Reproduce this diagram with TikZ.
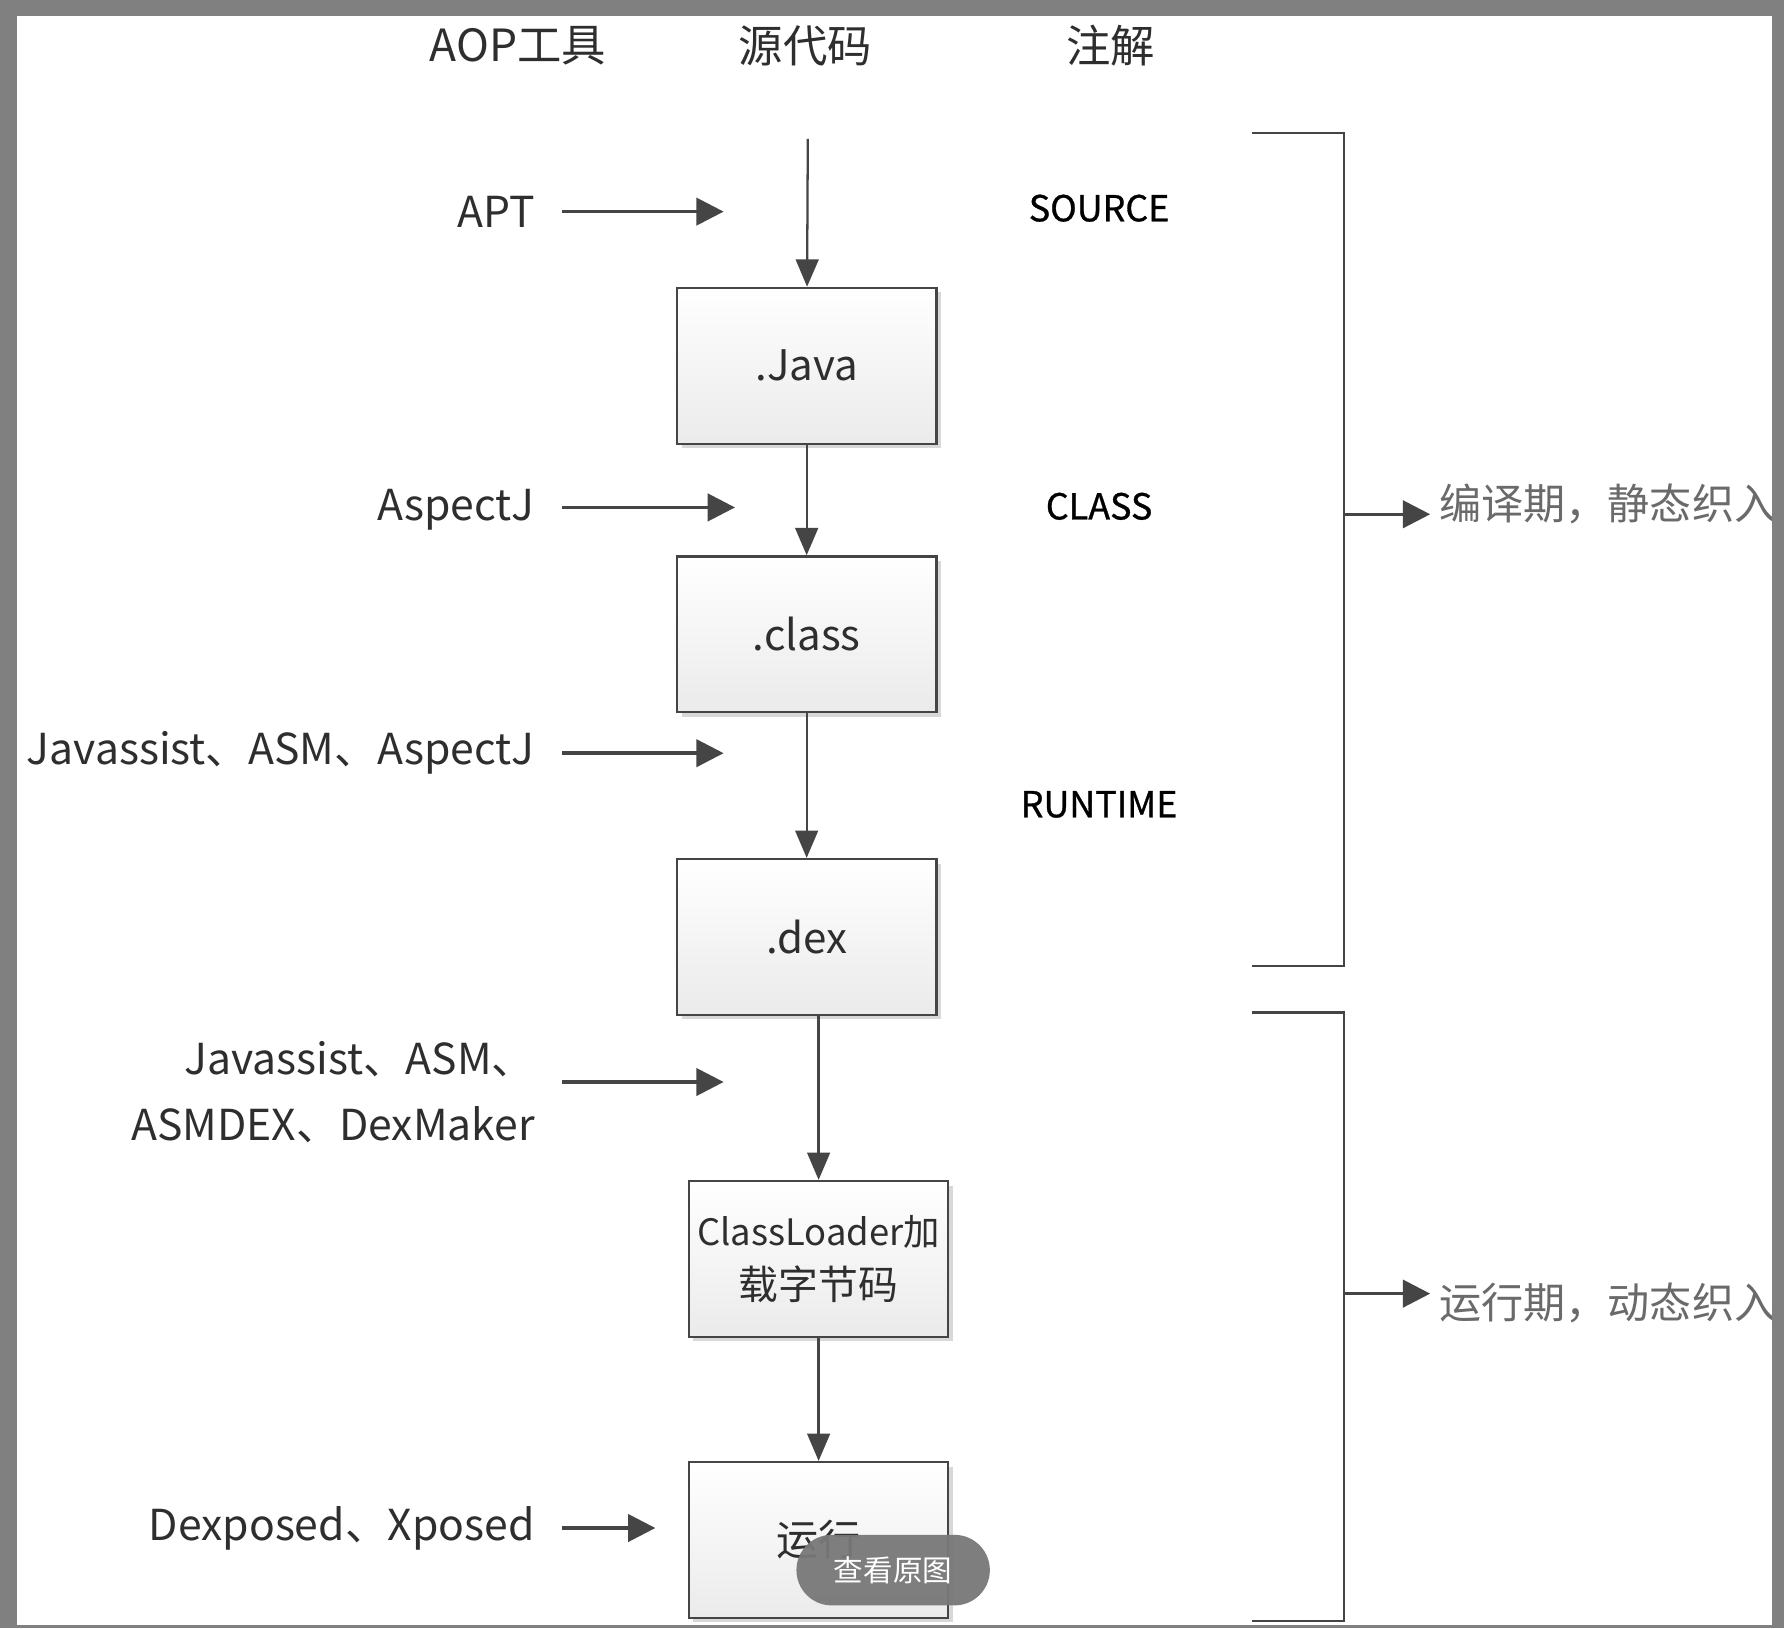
\documentclass[tikz,border=0pt]{standalone}
\usepackage{fontspec}
\setmainfont{Noto Sans CJK SC}
\newfontfamily\annofont[FakeBold=0.8]{Noto Sans CJK SC}
\usepackage{tikz}
\usetikzlibrary{shadows,arrows.meta,positioning,calc}
\definecolor{pagegray}{HTML}{808080}
\definecolor{linegray}{HTML}{454545}
\definecolor{textdark}{HTML}{2E2E2E}
\definecolor{textgray}{HTML}{6A6A6A}
\tikzstyle{stage}=[draw=linegray, line width=2pt, top color=white, bottom color=black!8,
  minimum width=228pt, minimum height=137pt, text=textdark, inner sep=0pt,
  font=\fontsize{37}{44}\selectfont,
  drop shadow={shadow xshift=4pt, shadow yshift=-4pt, fill=black!30, opacity=0.5}]
\tikzstyle{head}=[inner sep=0pt, text=textdark, font=\fontsize{39}{46}\selectfont]
\tikzstyle{tool}=[anchor=east, inner sep=0pt, align=right, text=textdark,
  font=\fontsize{37.5}{58}\selectfont]
\tikzstyle{anno}=[inner sep=0pt, text=black, font=\annofont\fontsize{31.5}{38}\selectfont]
\tikzstyle{phase}=[anchor=west, inner sep=0pt, text=textgray, font=\fontsize{37}{44}\selectfont]
\tikzstyle{line}=[draw, line width=2pt, color=linegray, -{Triangle[length=24pt,width=20pt]}]
\tikzstyle{toolline}=[line, line width=3pt, shorten <=24pt, -{Triangle[length=24pt,width=24pt]}]
\tikzstyle{bracket}=[draw, line width=2pt, color=linegray]
\newcommand{\stage}[2]{node (p#1)[stage]{#2}}
\newcommand{\tool}[3]{node (t#1)[tool] at (470,#2) {#3}}

\begin{document}
\begin{tikzpicture}[x=1pt,y=-1pt]

  % page and panel
  \useasboundingbox (0,0) rectangle (1568,1431);
  \fill[pagegray] (0,0) rectangle (1568,1431);
  \fill[white] (15,14) rectangle (1557,1428);

  % column headers
  \node (hAOP)[head] at (455,40) {AOP工具};
  \node (hSrc)[head] at (708,40) {源代码};
  \node (hAnno)[head] at (976,40) {注解};

  % Draw diagram elements
  \coordinate (p0) at (710,122);
  \path (709,321.5) \stage{1}{.Java};
  \path (p1.south)+(0,166.5) \stage{2}{.class};
  \path (p2.south)+(0,196.5) \stage{3}{.dex};
  \path (p3.south)+(10.5,213.5) node (p4)[stage, align=center,
    font=\fontsize{32}{47}\selectfont] {ClassLoader加\\{\fontsize{35}{47}\selectfont 载字节码}};
  \path (p4.south)+(0,177.5) \stage{5}{运行};

  % annotations
  \node (a1)[anno] at (966,183) {SOURCE};
  \node (a2)[anno] at (966,445) {CLASS};
  \node (a3)[anno] at (966,707) {RUNTIME};

  % AOP tools
  \begin{scope}
    \clip (15,14) rectangle (1557,1428);
    \path \tool{1}{186}{APT};
    \path \tool{2}{448}{AspectJ};
    \path \tool{3}{662}{Javassist、ASM、AspectJ};
    \path \tool{4}{960}{Javassist、ASM、\\ASMDEX、DexMaker};
    \path \tool{5}{1343}{Dexposed、Xposed};
  \end{scope}
  \coordinate (e1) at (636,186);
  \coordinate (e2) at (646,446);
  \coordinate (e3) at (636,662);
  \coordinate (e4) at (636,951);
  \coordinate (e5) at (576,1343);

  % Draw arrows between elements
  \path [line] (p0) -- (p1);
  \path [line] (p1) -- (p2);
  \path [line] (p2) -- (p3);
  \path [line] (p3.south -| p4) -- (p4);
  \path [line] (p4) -- (p5);
  \path [toolline] (t1.east) -- (e1);
  \path [toolline] (t2.east |- e2) -- (e2);
  \path [toolline] (t3.east) -- (e3);
  \path [toolline] (t4.east |- e4) -- (e4);
  \path [toolline] (t5.east) -- (e5);

  % brackets
  \coordinate (b1) at (1100,117);
  \coordinate (b2) at (1100,849);
  \coordinate (b3) at (1100,890);
  \coordinate (b4) at (1100,1425);
  \coordinate (m1) at (1181,452);
  \coordinate (m2) at (1181,1137);
  \path [bracket] (b1) -- ++(81,0) |- (b2);
  \path [bracket] (b3) -- ++(81,0) |- (b4);
  \begin{scope}
    \clip (15,14) rectangle (1557,1428);
    \node (r1)[phase] at (1265,443) {编译期，静态织入};
    \node (r2)[phase] at (1265,1145) {运行期，动态织入};
  \end{scope}
  \path [line, line width=3pt, shorten >=8pt, -{Triangle[length=24pt,width=24pt]}] (m1) -- (m1 -| r1.west);
  \path [line, line width=3pt, shorten >=8pt, -{Triangle[length=24pt,width=24pt]}] (m2) -- (m2 -| r2.west);

  % overlay button
  \node (btn)[fill=black!53, fill opacity=0.95, text opacity=1, text=white,
    rounded corners=31pt, minimum width=170pt, minimum height=62pt,
    inner sep=0pt, font=\fontsize{26}{30}\selectfont] at (785,1380) {查看原图};

\end{tikzpicture}
\end{document}
